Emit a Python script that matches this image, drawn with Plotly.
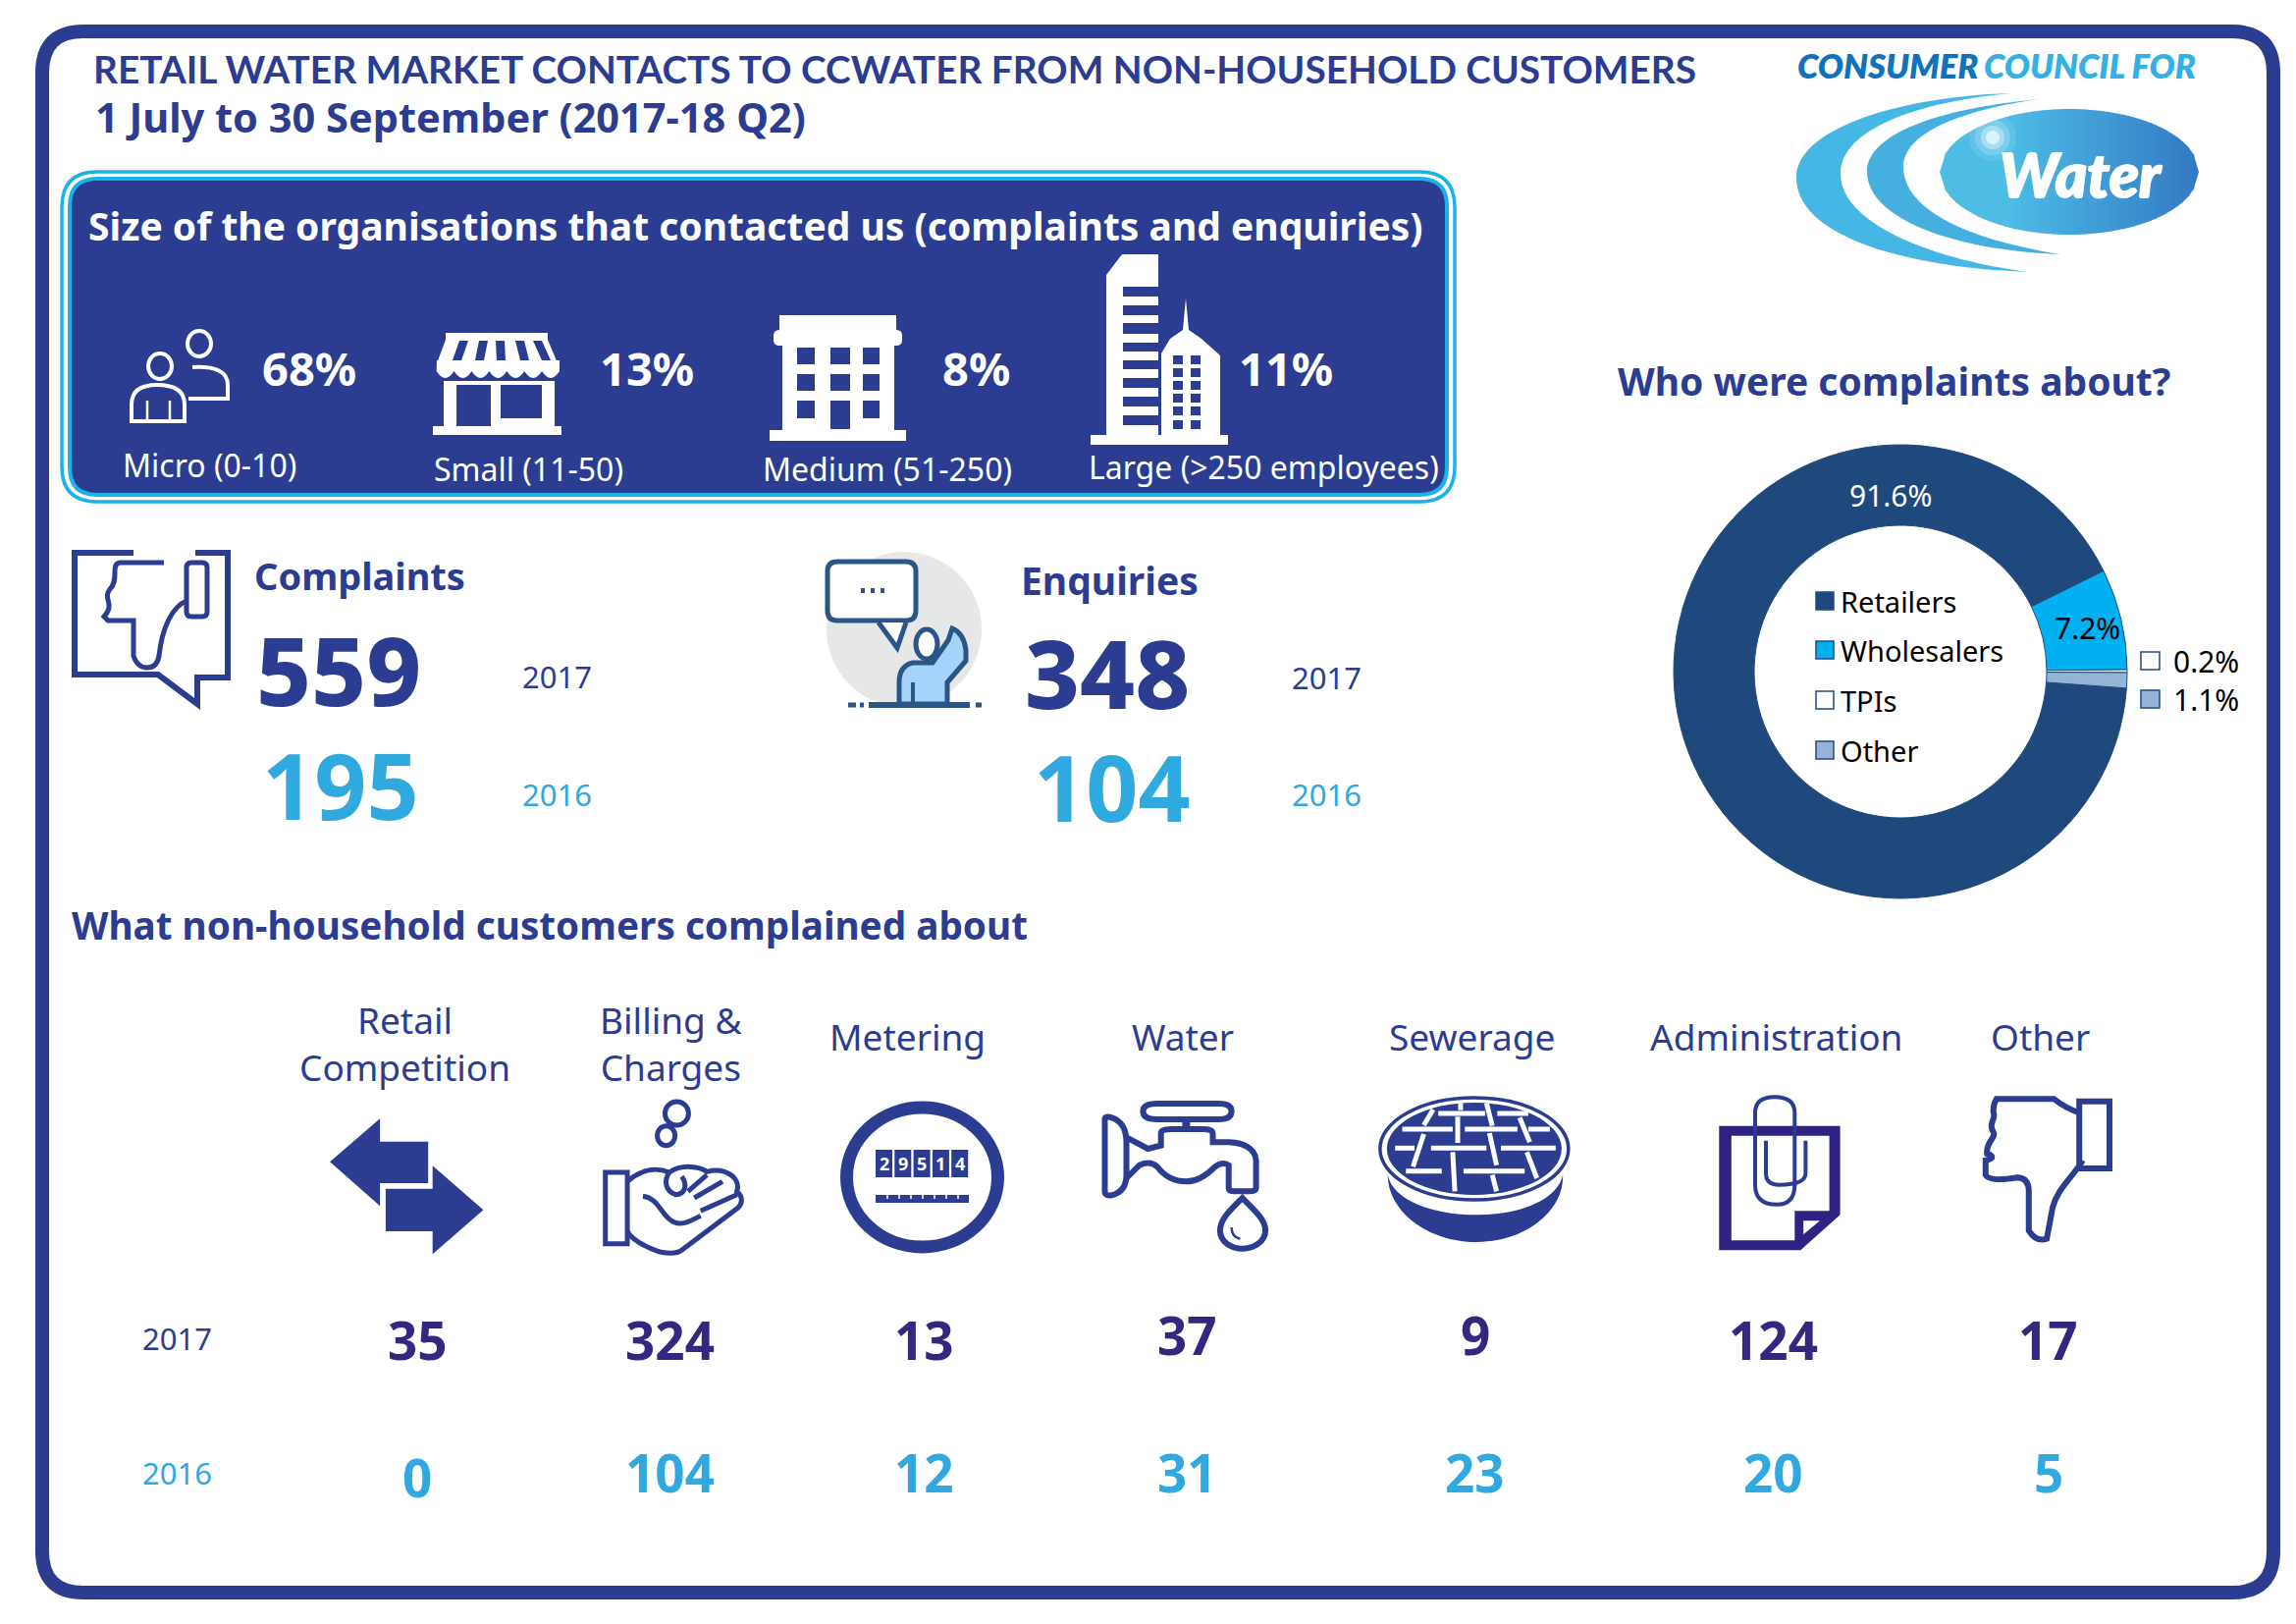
import math
import re
import plotly.graph_objects as go

W, H = 2339, 1654

# ---- data ----
org_sizes = ["Micro (0-10)", "Small (11-50)", "Medium (51-250)", "Large (>250 employees)"]
org_shares = ["68%", "13%", "8%", "11%"]
complaints = {"2017": 559, "2016": 195}
enquiries = {"2017": 348, "2016": 104}
who_labels = ["Retailers", "Wholesalers", "TPIs", "Other"]
who_values = [91.6, 7.2, 0.2, 1.1]
topics = ["Retail<br>Competition", "Billing &<br>Charges", "Metering", "Water", "Sewerage", "Administration", "Other"]
topics_2017 = [35, 324, 13, 37, 9, 124, 17]
topics_2016 = [0, 104, 12, 31, 23, 20, 5]
meter_digits = ["2", "9", "5", "1", "4"]

# ---- styles ----
NAVY = "#2B3C91"
LIGHT = "#30A8E0"
PURPLE = "#33287F"
CYAN = "#1BB2EA"
WH = "#FFFFFF"
FONT = "Noto Sans"
who_colors = ["#1F497D", "#00B0F0", "#FFFFFF", "#95B3D7"]
K = 0.9933

shapes, notes = [], []


def text(x, y, s, size, color=NAVY, weight=400, anchor="left", style="normal", family=FONT, shadow=None):
    f = dict(family=family, size=size, color=color, weight=weight, style=style)
    if shadow:
        f["shadow"] = shadow
    notes.append(dict(x=x * K, y=y * K, xref="x", yref="y", text=s, showarrow=False, xanchor=anchor, yanchor="middle",
                      borderpad=0, align="center" if anchor == "center" else "left", font=f))


def xf(d, ox=0, oy=0, sx=1, sy=1):
    """Map a path written in another coordinate frame onto the page."""
    out, cmd, is_x = [], "", True
    for tok in re.findall(r"[MLHVQCZ]|-?\d+\.?\d*", d):
        if tok.isalpha():
            cmd, is_x = tok, True
            out.append(tok)
            continue
        v = float(tok)
        if cmd == "H" or (cmd != "V" and is_x):
            out.append(f"{ox + v / sx:.1f}")
        else:
            out.append(f"{oy + v / sy:.1f}")
        if cmd not in "HV":
            is_x = not is_x
    s = ""
    for i, t in enumerate(out):
        s += t if t.isalpha() else (t + ("," if i + 1 < len(out) and not out[i + 1].isalpha() and _first(out, i) else " "))
    return s


def _first(out, i):
    j = i
    while not out[j].isalpha():
        j -= 1
    if out[j] in "HV":
        return False
    return (i - j) % 2 == 1


def path(d, fill="rgba(0,0,0,0)", line=None, width=0):
    shapes.append(dict(type="path", path=d, xref="x", yref="y", layer="above", fillcolor=fill,
                       line=dict(color=line or "rgba(0,0,0,0)", width=width)))


def rect(x0, y0, x1, y1, fill, line=None, width=0):
    shapes.append(dict(type="rect", x0=x0, y0=y0, x1=x1, y1=y1, xref="x", yref="y", layer="above", fillcolor=fill,
                       line=dict(color=line or "rgba(0,0,0,0)", width=width)))


def ell(cx, cy, rx, ry, fill="rgba(0,0,0,0)", line=None, width=0, opacity=1):
    shapes.append(dict(type="circle", x0=cx - rx, y0=cy - ry, x1=cx + rx, y1=cy + ry, xref="x", yref="y",
                       layer="above", fillcolor=fill, opacity=opacity,
                       line=dict(color=line or "rgba(0,0,0,0)", width=width)))


def rrect(x0, y0, x1, y1, r):
    return (f"M{x0+r},{y0} H{x1-r} Q{x1},{y0} {x1},{y0+r} V{y1-r} Q{x1},{y1} {x1-r},{y1} "
            f"H{x0+r} Q{x0},{y1} {x0},{y1-r} V{y0+r} Q{x0},{y0} {x0+r},{y0} Z")


def z4(d):
    return xf(d, 280, 1000, 1.568, 3)


def z5(d):
    return xf(d, 1080, 1000, 1.363, 3)


# ---- frame ----
path(rrect(43, 32, 2316, 1622, 42), line=NAVY, width=14)

# ---- heading ----
text(95, 70, "RETAIL WATER MARKET CONTACTS TO CCWATER FROM NON-HOUSEHOLD CUSTOMERS", 38.8, weight=700, family="Lato")
text(97, 120, "1 July to 30 September (2017-18 Q2)", 41.5, weight=700)

# ---- logo ----
text(1842, 67, "CONSUMER", 34.5, "#0F72BC", 800, style="italic", family="Lato")
text(2034, 67, "COUNCIL FOR", 34.5, "#33B0E6", 800, style="italic", family="Lato")
path("M2049,95 C1939,98 1830,130 1830,181 C1830,240 1939,272 2064,277 C1959,262 1875,225 1875,177 C1875,130 1959,103 2049,95 Z",
     fill="#46B6E4")
path("M2077,101 C1979,110 1902,135 1902,175 C1902,222 1989,255 2099,259 C2009,245 1939,215 1939,170 C1939,135 1999,112 2077,101 Z",
     fill="#45B0E0")
ecx, ecy, erx, ery, n = 2108, 175, 132, 64, 48
for i in range(n):
    a = -1 + 2 * i / n
    b = min(1, a + 2 / n + 0.006)
    ya, yb = ery * math.sqrt(max(0, 1 - a * a)), ery * math.sqrt(max(0, 1 - b * b))
    t = max(0, (i / n - 0.25) / 0.75)
    c = (int(77 + (52 - 77) * t), int(189 + (120 - 189) * t), int(230 + (196 - 230) * t))
    path(f"M{ecx+a*erx:.1f},{ecy-ya:.1f} L{ecx+b*erx:.1f},{ecy-yb:.1f} L{ecx+b*erx:.1f},{ecy+yb:.1f} L{ecx+a*erx:.1f},{ecy+ya:.1f} Z",
         fill=f"rgb{c}")
for r, o in [(24, 0.1), (18, 0.18), (12, 0.35), (7, 0.6)]:
    ell(2030, 140, r, r, fill=WH, opacity=o)
text(2134, 178, "Water", 62, WH, 900, anchor="center", style="italic", family="Lato",
     shadow="1px 0 0 #fff, -1px 0 0 #fff, 0 1px 0 #fff")

# ---- organisation size panel ----
path(rrect(63, 175, 1482, 511, 36), line=CYAN, width=3.5)
path(rrect(71, 182, 1474, 504, 28), fill=NAVY, line=CYAN, width=4)
path(rrect(75, 185, 1470, 500, 26), fill=NAVY, line=NAVY, width=2)
text(90, 231, "Size of the organisations that contacted us (complaints and enquiries)", 39, WH, 700)
for x, s in zip([268, 614, 965, 1270], org_shares):
    text(x, 378, s, 47, WH, 700)
for x, y, s in zip([125, 444, 781, 1115], [477, 481, 481, 479], org_sizes):
    text(x, y, s, 32, WH)

# people
ell(203, 350, 12, 13, line=WH, width=4)
ell(163, 373, 12, 13, line=WH, width=4)
path("M134,429 V412 Q134,392 160,392 Q188,392 188,412 V429 Z", line=WH, width=4)
path("M150,408 V429 M173,408 V429", line=WH, width=2.5)
path("M196,374 Q232,372 232,392 V406 H192", line=WH, width=4)
# shop
path("M454,339 H558 V346 L568,370 H445 L454,346 Z", fill=WH)
for xa, xb in [(468, 461), (488, 484), (505, 506), (525, 530), (543, 552)]:
    path(f"M{xa},347 H{xa+9} L{xb+9},367 H{xb} Z", fill=NAVY)
d = "M445,367 H570 V378"
sx = 570
for _ in range(7):
    d += f" Q{sx-9},{392} {sx-17.9},378"
    sx -= 17.9
path(d + " Z", fill=WH)
rect(452, 388, 565, 434, WH)
rect(465, 392, 500, 434, NAVY)
rect(510, 392, 552, 426, NAVY)
rect(441, 434, 572, 443, WH)
# medium block
rect(794, 321, 913, 342, WH)
path(rrect(788, 336, 919, 352, 6), fill=WH)
rect(797, 350, 911, 440, WH)
rect(784, 438, 923, 449, WH)
for cx0, cx1 in [(812, 830), (846, 866), (879, 896)]:
    for ry0, ry1 in [(354, 371), (381, 398), (408, 426)]:
        rect(cx0, ry0, cx1, ry1, NAVY)
rect(846, 420, 866, 437, NAVY)
# tower
path("M1127,280 L1143,259 H1180 V445 H1127 Z", fill=WH)
for y0, y1 in [(292, 302), (311, 321), (329, 340), (349, 358), (367, 376), (385, 395), (404, 414), (423, 433)]:
    rect(1144, y0, 1181, y1, NAVY)
path("M1183,445 V360 L1192,345 L1205,336 L1208,304 L1211,336 L1224,345 L1243,362 V445 Z", fill=WH)
for cx0 in [1195, 1213]:
    for y0 in [362, 375, 388, 401, 414, 428]:
        rect(cx0, y0, cx0 + 10, y0 + 9, NAVY)
rect(1111, 443, 1251, 453, WH)

# ---- complaints ----
path("M136,563 H76 V687 H161 L201,717 V690 H232 V563 H199", line=NAVY, width=6)
path("M167,573 H122 C112,575 122,590 112,600 C104,610 118,615 106,628 L110,632 H136 V668 Q140,680 150,680 Q160,680 162,668 "
     "C165,640 175,618 190,612", line=NAVY, width=5)
path(rrect(190, 573, 211, 628, 5), line=NAVY, width=5)
text(260, 590, "Complaints", 38, weight=700)
text(262, 686, str(complaints["2017"]), 97, weight=800)
text(349, 804, str(complaints["2016"]), 93, LIGHT, 700, anchor="center")
text(535, 694, "2017", 31)
text(535, 814, "2016", 31, LIGHT)

# ---- enquiries ----
BL = "#2A5587"
ell(921, 641, 79, 79, fill="#E6E8E8")
path(rrect(843, 572, 933, 632, 10), fill=WH, line=BL, width=5)
path("M895,634 L914,660 L923,634", fill=WH, line=BL, width=5)
for xd in [879, 889, 899]:
    rect(xd - 2, 599, xd + 2, 604, BL)
path("M970,640 Q982,645 984,662 V673 L965,695 V717 H916 V695 Q916,678 930,675 H950 L966,652 Z", fill="#A6D3FB", line=BL, width=5)
ell(944, 656, 11, 15, fill=WH, line=BL, width=5)
path("M930,695 V717", line=BL, width=4)
path("M885,718 H988", line=BL, width=6)
path("M864,718 H872 M876,718 H880 M994,718 H1000", line=BL, width=5)
text(1046, 594, "Enquiries", 39, weight=700)
text(1050, 689, str(enquiries["2017"]), 97, weight=800)
text(1141, 806, str(enquiries["2016"]), 93, LIGHT, 700, anchor="center")
text(1324, 695, "2017", 31)
text(1324, 814, "2016", 31, LIGHT)

# ---- who were complaints about ----
text(1658, 390, "Who were complaints about?", 39, weight=700)
PCX, PCY, PR = 1936, 684, 231
pie = go.Pie(labels=who_labels, values=who_values, hole=0.645, sort=False, direction="clockwise", rotation=94.2,
             marker=dict(colors=who_colors, line=dict(color="#1F497D", width=1)), textinfo="none", showlegend=False,
             hoverinfo="label+value",
             domain=dict(x=[(PCX - PR) / W, (PCX + PR) / W], y=[1 - (PCY + PR) / H, 1 - (PCY - PR) / H]))
text(1939, 508, f"{who_values[0]}%", 30, WH, anchor="center")
text(2141, 644, f"{who_values[1]}%", 30, "#000000", anchor="center")
for y, name, col in zip([612, 662, 713, 764], who_labels, who_colors):
    rect(1850, y - 9, 1868, y + 9, col, line="#1F497D", width=1.5)
    text(1887, y / K, name, 29, "#000000")
for y, v, col in zip([673, 712], who_values[2:], who_colors[2:]):
    rect(2181, y - 9, 2200, y + 9, col, line="#1F497D", width=1.5)
    text(2228, y / K, f"{v}%", 30, "#000000")

# ---- topics ----
text(72, 948, "What non-household customers complained about", 38.7, weight=700)
topic_x = [415, 688, 931, 1213, 1510, 1822, 2093]
topic_y = [1070, 1070, 1063, 1063, 1063, 1063, 1063]
for x, y, t in zip(topic_x, topic_y, topics):
    text(x, y, t, 37, anchor="center")
val_x = [428, 687, 948, 1218, 1513, 1819, 2101]
y17 = [1374, 1374, 1374, 1369, 1369, 1374, 1374]
y16 = [1515, 1510, 1510, 1510, 1510, 1510, 1510]
for x, y, v in zip(val_x, y17, topics_2017):
    text(x, y, str(v), 53, PURPLE, 700, anchor="center")
for x, y, v in zip(val_x, y16, topics_2016):
    text(x, y, str(v), 53, LIGHT, 700, anchor="center")
text(182, 1372, "2017", 31, anchor="center")
text(182, 1510, "2016", 31, LIGHT, anchor="center")

# arrows
path(z4("M88,550 L168,418 V488 H245 V615 H168 V685 Z"), fill=NAVY)
path(z4("M177,632 H252 V562 L333,697 L252,832 V762 H177 Z"), fill=NAVY)
# hand and coins
ell(280 + 642 / 1.568, 1000 + 402 / 3, 12, 12, line=NAVY, width=5)
ell(280 + 625 / 1.568, 1000 + 470 / 3, 9, 10, line=NAVY, width=5)
path(z4("M528,582 H563 V800 H528 Z"), line=NAVY, width=5)
path(z4("M563,610 C590,565 615,570 630,582 C650,555 680,565 690,580 C720,565 745,600 738,640 C750,660 745,680 740,690 "
        "L650,820 Q640,835 615,825 C590,810 565,780 563,760"), line=NAVY, width=5)
path(z4("M588,655 C610,660 615,700 630,725 C645,750 660,735 680,715"), line=NAVY, width=5)
path(z4("M630,582 C620,610 625,640 640,650 C655,650 660,620 650,595"), line=NAVY, width=5)
for s in ["M690,590 L660,640", "M715,610 L670,660", "M738,650 L680,700"]:
    path(z4(s), line=NAVY, width=5)
# meter
ell(939.5, 1199, 77, 71, line=NAVY, width=13)
for i, dg in enumerate(meter_digits):
    x0 = 892 + i * 19.3
    rect(x0, 1171, x0 + 17, 1199, NAVY)
    text((x0 + 8.5) / K, 1185 / K, dg, 18, WH, 700, anchor="center")
rect(892, 1217, 987, 1225, NAVY)
path("M904,1217 V1221 M916,1217 V1221 M928,1217 V1221 M940,1217 V1221 M952,1217 V1221 M964,1217 V1221 M976,1217 V1221",
     line=WH, width=1.5)
# tap
path(z5("M62,420 Q62,408 72,415 Q92,430 92,490 V590 Q92,640 72,652 Q62,655 62,640 Z"), line=NAVY, width=6)
path(z5("M135,372 H220 Q238,372 238,395 Q238,420 220,420 H135 Q115,420 115,395 Q115,372 135,372 Z"), line=NAVY, width=6)
path(z5("M175,420 V450"), line=NAVY, width=8)
path(z5("M92,475 L122,510 L140,500 V462 Q140,450 155,450 H200 Q212,450 212,465 V490 H235 Q270,495 272,545 V630 Q272,640 262,640 "
        "H242 Q234,640 234,630 V560 Q225,548 215,565 Q195,610 175,610 Q150,610 135,565 Q125,545 110,560 L92,600"),
     line=NAVY, width=6)
path(z5("M253,660 C235,700 222,725 222,760 C222,795 238,815 253,815 C268,815 285,795 285,760 C285,725 270,700 253,660 Z"),
     line=NAVY, width=6)
path(z5("M238,750 Q238,780 250,785"), line=NAVY, width=2.5)
# sewer cover
path(z5("M455,590 C462,670 520,712 578,712 C635,712 690,670 698,590 C700,700 645,795 578,795 C510,795 455,700 455,590 Z"), fill=NAVY)
LX, LY = 1080 + 575 / 1.363, 1000 + 510 / 3
ell(LX, LY, 96, 52, fill=WH, line=NAVY, width=3.5)
ell(LX, LY, 89, 47, fill=NAVY)
for x0, x1, y in [(525, 590, 402), (607, 650, 402), (475, 545, 450), (562, 635, 450), (650, 680, 450), (465, 492, 508),
                  (515, 592, 508), (612, 688, 508), (480, 530, 578), (560, 645, 578)]:
    path(z5(f"M{x0},{y} L{x1},{y}"), line=WH, width=5)
for x0, y0, x1, y1 in [(518, 390, 505, 438), (556, 370, 556, 392), (552, 412, 552, 492), (592, 370, 600, 440), (638, 415, 652, 490),
                       (505, 465, 490, 565), (596, 462, 606, 560), (545, 520, 548, 640), (600, 590, 606, 640), (648, 520, 662, 600)]:
    path(z5(f"M{x0},{y0} L{x1},{y1}"), line=WH, width=5)
# paper clip
PURP2 = "#2E2383"
path(z5("M915,440 H1083 V712 L1028,820 H915 Z"), fill=PURP2)
path(z5("M932,470 H1068 V700 H1020 V790 H932 Z"), fill=WH)
path(z5("M1032,730 H1055 L1032,772 Z"), fill=WH)
path(z5("M965,440 V400 Q965,352 992,352 Q1020,352 1020,400 V620 Q1020,680 995,680 Q965,680 965,620 V440"), line=NAVY, width=4)
path(z5("M980,485 V585 Q980,620 998,620 Q1035,620 1035,585 V485"), line=NAVY, width=4)
# thumb
path(z5("M1415,365 H1457 V570 H1415 Z"), line=NAVY, width=6)
path(z5("M1415,400 Q1395,385 1380,358 H1300 Q1295,375 1296,400 C1300,420 1288,430 1296,460 C1300,475 1285,490 1287,525 "
        "C1295,530 1298,540 1285,545 V590 Q1290,612 1330,598 Q1345,600 1345,640 V760 Q1355,795 1370,785 L1378,690 "
        "C1385,630 1405,600 1420,545"), line=NAVY, width=6)

fig = go.Figure(pie)
fig.update_layout(width=W, height=H, margin=dict(l=0, r=0, t=0, b=0), autosize=False,
                  paper_bgcolor=WH, plot_bgcolor=WH, showlegend=False,
                  xaxis=dict(range=[0, W], visible=False, fixedrange=True),
                  yaxis=dict(range=[H, 0], visible=False, fixedrange=True),
                  shapes=shapes, annotations=notes)
fig.write_html("out.html", post_script="document.body.style.margin='0';document.body.style.overflow='hidden';",
               config={"displayModeBar": False})
